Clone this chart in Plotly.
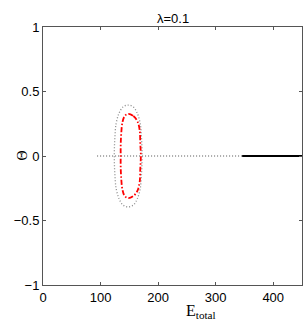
import plotly.graph_objects as go

# Horizontal branch (unstable: dotted, stable: solid)
unstable_x = [94, 346]
unstable_y = [0, 0]
stable_x = [346, 450]
stable_y = [0, 0]

# Gray dotted closed loop
loop_gray_x = [148, 157, 164, 169, 171, 172, 172, 171, 169, 164, 157, 148,
               139, 132, 127, 125, 124, 124, 125, 127, 132, 139, 148]
loop_gray_y = [0.395, 0.38, 0.33, 0.25, 0.15, 0.05, -0.05, -0.15, -0.25, -0.33, -0.38, -0.395,
               -0.38, -0.33, -0.25, -0.15, -0.05, 0.05, 0.15, 0.25, 0.33, 0.38, 0.395]

# Red dash-dot closed loop
loop_red_x = [148, 157, 164, 168, 169, 170, 169, 168, 164, 157, 148,
              142, 138, 136, 135, 135, 135, 136, 138, 142, 148]
loop_red_y = [0.326, 0.31, 0.27, 0.2, 0.1, 0.0, -0.1, -0.2, -0.27, -0.31, -0.326,
              -0.31, -0.26, -0.18, -0.08, 0.0, 0.08, 0.18, 0.26, 0.31, 0.326]

x_ticks = [0, 100, 200, 300, 400]
y_ticks = [-1, -0.5, 0, 0.5, 1]
y_tick_labels = ["\u22121", "\u22120.5", "0", "0.5", "1"]

fig = go.Figure()
fig.add_trace(go.Scatter(x=unstable_x, y=unstable_y, mode="lines",
                         line=dict(color="#8a8a8a", width=1.3, dash="1px,2px")))
fig.add_trace(go.Scatter(x=stable_x, y=stable_y, mode="lines",
                         line=dict(color="black", width=2)))
fig.add_trace(go.Scatter(x=loop_gray_x, y=loop_gray_y, mode="lines",
                         line=dict(color="#8a8a8a", width=1.3, dash="1px,2px", shape="spline")))
fig.add_trace(go.Scatter(x=loop_red_x, y=loop_red_y, mode="lines",
                         line=dict(color="red", width=1.8, dash="5px,2px,1.5px,2px", shape="spline")))

axis_common = dict(showgrid=False, zeroline=False, showline=True, linecolor="#555555",
                   linewidth=1, mirror="ticks", ticks="inside", ticklen=3,
                   tickcolor="#555555", automargin=False,
                   tickfont=dict(family="Liberation Sans, Arial", size=13, color="black"))

fig.update_layout(
    width=305, height=321,
    margin=dict(l=43, r=3, t=27, b=36),
    paper_bgcolor="white", plot_bgcolor="white",
    showlegend=False,
    xaxis=dict(range=[0, 450], tickvals=x_ticks, **axis_common),
    yaxis=dict(range=[-1, 1], tickvals=y_ticks, ticktext=y_tick_labels, **axis_common),
    annotations=[
        dict(text="\u03bb=0.1", xref="paper", yref="paper", x=0.5, y=1, yshift=18,
             showarrow=False, font=dict(family="Liberation Sans, Arial", size=13, color="black")),
        dict(text="E<sub>total</sub>", xref="paper", yref="paper", x=0.61, y=0, yshift=-15,
             yanchor="top", showarrow=False,
             font=dict(family="Liberation Serif, Times New Roman", size=16, color="black")),
        dict(text="\u0398", xref="paper", yref="paper", x=0, xshift=-31, y=0.5,
             textangle=-90, showarrow=False,
             font=dict(family="Liberation Serif, Times New Roman", size=14, color="black")),
    ],
)

fig.write_html("out.html", config={"displayModeBar": False},
               post_script="document.body.style.margin='0px';document.body.style.overflow='hidden';")
